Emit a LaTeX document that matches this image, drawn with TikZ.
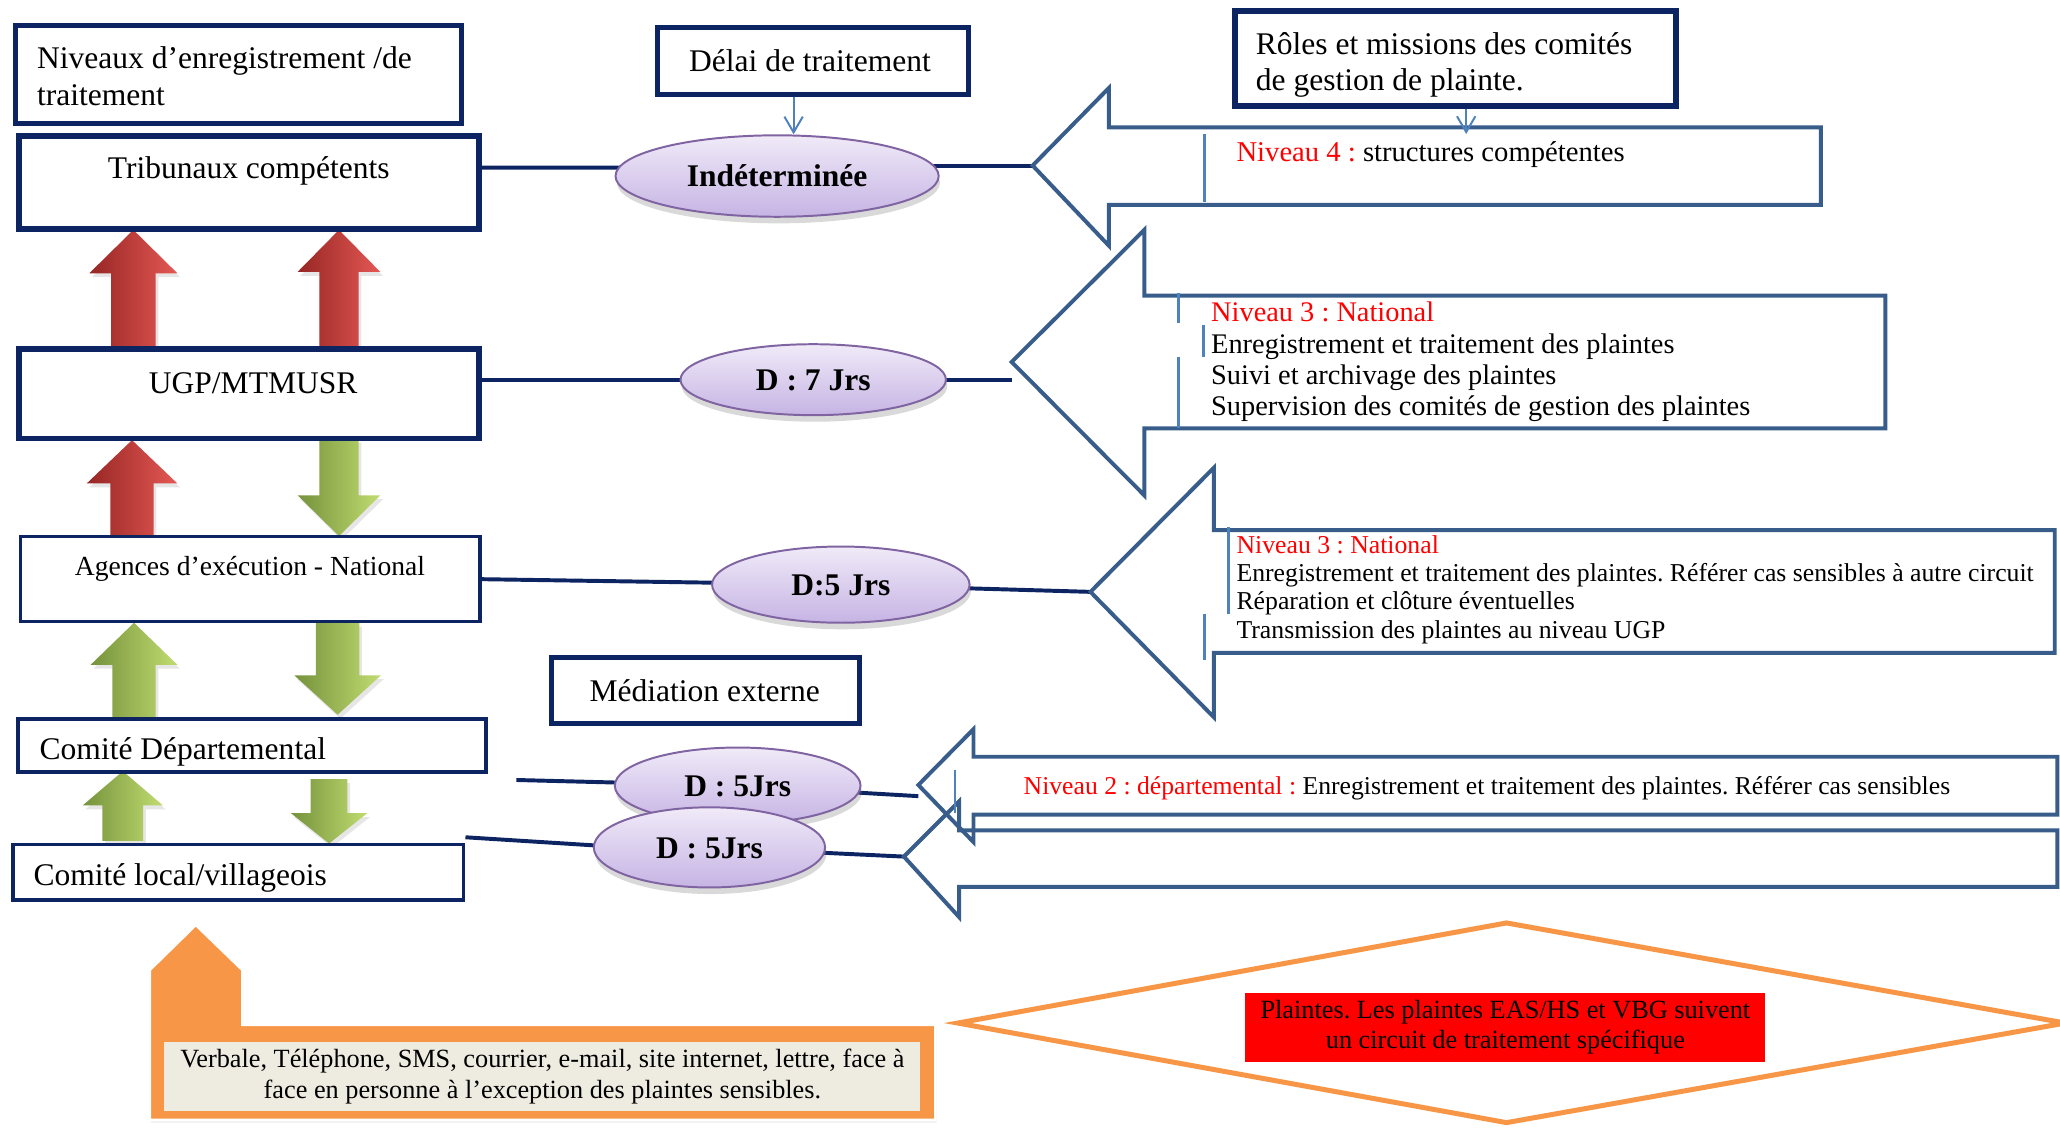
\documentclass[tikz,border=0pt]{standalone}
\usepackage{fontspec}
\setmainfont{Liberation Serif}
\frenchspacing
\usetikzlibrary{shapes.geometric,shadows,arrows.meta}
\definecolor{navy}{RGB}{12,36,97}
\definecolor{aout}{RGB}{56,93,138}
\definecolor{acc1}{RGB}{79,129,189}
\definecolor{lavtop}{RGB}{240,234,248}
\definecolor{lavbot}{RGB}{198,180,228}
\definecolor{lavedge}{RGB}{128,100,162}
\definecolor{orng}{RGB}{247,150,70}
\definecolor{beige}{RGB}{238,236,225}
\definecolor{rdark}{RGB}{150,38,36}
\definecolor{rmid}{RGB}{195,58,55}
\definecolor{rlight}{RGB}{228,88,84}
\definecolor{gdark}{RGB}{118,146,60}
\definecolor{gmid}{RGB}{155,187,89}
\definecolor{glight}{RGB}{192,220,112}
\pgfdeclarelayer{bg}
\pgfsetlayers{bg,main}
\newcommand{\BlkArrow}[7]{%
  \path[#7] ({#1-#2},#6) -- ({#1-#2},#5) -- ({#1-#3},#5) -- (#1,#4) -- ({#1+#3},#5) -- ({#1+#2},#5) -- ({#1+#2},#6) -- cycle;}
\newcommand{\LArrow}[9]{%
  \coordinate (#1) at (#2,#3);
  \draw[aoutl] (#1) -- (#4,#5) -- (#4,#7) -- (#9,#7) -- (#9,#8) -- (#4,#8) -- (#4,#6) -- cycle;}
\begin{document}
\begin{tikzpicture}[x=1pt,y=-1pt,
  box/.style={draw=navy, fill=white, inner sep=0pt},
  conn/.style={draw=navy, line width=3pt},
  thinarr/.style={draw=acc1, line width=1.5pt, -{Straight Barb[length=12pt,width=14pt]}},
  aoutl/.style={draw=aout, line width=3pt},
  cursor/.style={draw=acc1, line width=2pt},
  fbig/.style={font=\fontsize{24}{28}\selectfont, inner sep=0pt},
  ell/.style={ellipse, draw=lavedge, line width=1.5pt, top color=lavtop, bottom color=lavbot, inner sep=0pt,
     text height=16.5pt, text depth=0pt,
     font=\bfseries\fontsize{24}{28}\selectfont, drop shadow={opacity=0.3, shadow xshift=1pt, shadow yshift=-5pt}},
  redarr/.style={left color=rdark, middle color=rmid, right color=rlight, drop shadow={opacity=0.2, shadow xshift=2pt, shadow yshift=-3pt}},
  greenarr/.style={left color=gdark, middle color=gmid, right color=glight, drop shadow={opacity=0.2, shadow xshift=2pt, shadow yshift=-3pt}}
]
\useasboundingbox (0,0) rectangle (1568,859);

% ---- vertical block arrows (left column)
\BlkArrow{101.5}{17}{33.5}{175}{208}{264}{redarr}
\BlkArrow{258}{15}{31.5}{175}{207}{264}{redarr}
\BlkArrow{100.5}{16.5}{34.5}{335}{368}{409}{redarr}
\BlkArrow{258}{15}{31.5}{408}{377}{334}{greenarr}
\BlkArrow{102}{16.5}{33}{474}{506}{546}{greenarr}
\BlkArrow{257}{16.5}{33}{544}{514}{474}{greenarr}
\BlkArrow{93.5}{15.5}{30.5}{587}{613}{640}{greenarr}
\BlkArrow{250.5}{14}{29}{642}{619}{593}{greenarr}

% ---- header boxes
\node[box, line width=3.8pt, minimum width=339.4, minimum height=74.3] (niv) at (181.3,56.85) {};
\node[fbig, anchor=west, align=left] (nivt) at (28,58.2) {Niveaux d’enregistrement /de\\traitement};
\node[box, line width=3.8pt, minimum width=236.5, minimum height=50.7] (delai) at (618.65,46.35) {};
\node[fbig] (delait) at (616.5,46.5) {Délai de traitement};
\node[box, line width=4.5pt, minimum width=336, minimum height=72.1] (roles) at (1108,44.65) {};
\node[fbig, anchor=west, align=left] (rolest) at (955.7,49.5) {Rôles et missions des comités\\de gestion de plainte.};

% ---- level boxes
\node[box, line width=4.5pt, minimum width=350.1, minimum height=71.4] (trib) at (189.25,138.9) {};
\node[fbig] (tribt) at (189.3,130) {Tribunaux compétents};
\node[box, line width=4.5pt, minimum width=350.1, minimum height=68.2] (ugp) at (189.25,299.7) {};
\node[fbig] (ugpt) at (192.7,291.7) {UGP/MTMUSR};
\node[box, line width=2.6pt, minimum width=349.5, minimum height=64.7] (ag) at (190.55,440.85) {};
\node[font=\fontsize{21}{25}\selectfont, inner sep=0pt] (agt) at (190.3,432.8) {Agences d’exécution - National};
\node[box, line width=3pt, minimum width=356.3, minimum height=40.5] (dep) at (191.75,567.25) {};
\node[fbig, anchor=west] (dept) at (30,572.5) {Comité Départemental};
\node[box, line width=2.6pt, minimum width=343, minimum height=42] (loc) at (181.5,664) {};
\node[fbig, anchor=west] (loct) at (25.3,668.5) {Comité local/villageois};
\node[box, line width=3.8pt, minimum width=235, minimum height=50.2] (med) at (536.9,525.6) {};
\node[fbig] (medt) at (536.4,526) {Médiation externe};

% ---- big left-pointing arrows (right side)
\LArrow{a1}{786}{126}{844}{67}{187}{97}{156}{1386}
\LArrow{a2}{770}{275.5}{871}{175}{377}{225}{326}{1435}
\LArrow{a3}{830}{450.5}{924}{356}{546}{403.5}{497}{1564}
\LArrow{a4}{699}{597.5}{741}{555}{641}{576}{620}{1566}
\LArrow{a5}{688}{652}{730}{610}{698}{632}{675}{1566}

% cursor marks
\draw[cursor] (917,102) -- (917,154);
\draw[cursor] (897,223) -- (897,246);
\draw[cursor, line width=2.6pt] (916,247) -- (916,271.5);
\draw[cursor] (897,271.5) -- (897,326);
\draw[cursor] (935,401) -- (935,467);
\draw[cursor] (917,467) -- (917,502);
\draw[cursor] (727,586) -- (727,619);

% texts in arrows
\node[font=\fontsize{21.8}{26}\selectfont, inner sep=0pt, anchor=west] (t4) at (941,118)
  {\textcolor{red}{Niveau 4 :} structures compétentes};
\node[font=\fontsize{21.6}{23.7}\selectfont, inner sep=0pt, anchor=west, align=left] (t3a) at (921.7,275.4)
  {\textcolor{red}{Niveau 3 : National}\\Enregistrement et traitement des plaintes\\Suivi et archivage des plaintes\\Supervision des comités de gestion des plaintes};
\node[font=\fontsize{19.6}{21.6}\selectfont, inner sep=0pt, anchor=west, align=left] (t3b) at (941,448.7)
  {\textcolor{red}{Niveau 3 : National}\\Enregistrement et traitement des plaintes. Référer cas sensibles à autre circuit\\Réparation et clôture éventuelles\\Transmission des plaintes au niveau UGP};
\node[font=\fontsize{19.55}{24}\selectfont, inner sep=0pt, anchor=west] (t2) at (779,600)
  {\textcolor{red}{Niveau 2 : départemental :} Enregistrement et traitement des plaintes. Référer cas sensibles};

% ---- ellipses
\node[ell, minimum width=246, minimum height=62] (ind) at (591.5,134) {Indéterminée};
\node[ell, minimum width=202, minimum height=54] (d7) at (619,289) {D : 7 Jrs};
\node[ell, minimum width=196, minimum height=58] (d5a) at (640,445) {D:5 Jrs};
\node[ell, minimum width=187, minimum height=58] (d5b) at (561.5,598) {D : 5Jrs};
\node[ell, minimum width=176, minimum height=61] (d5c) at (540,645) {D : 5Jrs};

% ---- connectors
\coordinate (dl) at (393,593.7);
\coordinate (a1top) at (1116,102);
\begin{pgfonlayer}{bg}
\draw[conn] ([yshift=11.3pt]trib.east) -- ([yshift=6.4pt]ind.center);
\draw[conn] ([yshift=8pt]ind.center) -- (a1);
\draw[conn] ([yshift=10.7pt]ugp.east) -- (d7.center);
\draw[conn] (d7.center) -- ([yshift=-13.5pt]a2);
\draw[conn] (ag.east) -- (d5a.center);
\draw[conn] (d5a.center) -- (a3);
\draw[conn] (dl) -- (d5b.center);
\draw[conn] (d5b.center) -- ([yshift=-8.5pt]a4);
\draw[conn] ([yshift=4.4pt]loc.north east) -- ([yshift=-4pt]d5c.center);
\draw[conn] (d5c.center) -- (a5);
\end{pgfonlayer}
\draw[thinarr] ([xshift=-14.6pt]delai.south) -- ([xshift=-14.6pt]delai.south |- ind.north);
\draw[thinarr] ([xshift=8pt]roles.south) -- (a1top);

% ---- orange input arrow with text box
\path[fill=orng, draw=white, line width=2pt, drop shadow={opacity=0.15, shadow xshift=1pt, shadow yshift=-2pt}]
  (114,852.5) -- (114,738.3) -- (149,704) -- (184.5,738.3) -- (184.5,780) -- (712,780) -- (712,852.5) -- cycle;
\node[fill=beige, minimum width=575.3, minimum height=52.4, inner sep=0pt, align=center,
  font=\fontsize{20}{23.7}\selectfont] (canal) at (412.85,819.2)
  {Verbale, Téléphone, SMS, courrier, e-mail, site internet, lettre, face à\\face en personne à l’exception des plaintes sensibles.};

% ---- diamond with red box
\draw[draw=orng, line width=3.8pt] (729,778.7) -- (1146.7,702.5) -- (1572,778.7) -- (1146.7,854.5) -- cycle;
\node[fill=red, minimum width=395.7, minimum height=52.4, inner sep=0pt, align=center,
  font=\fontsize{20}{22.8}\selectfont] (eas) at (1145.85,781.8)
  {Plaintes. Les plaintes EAS/HS et VBG suivent\\un circuit de traitement spécifique};
\end{tikzpicture}
\end{document}
